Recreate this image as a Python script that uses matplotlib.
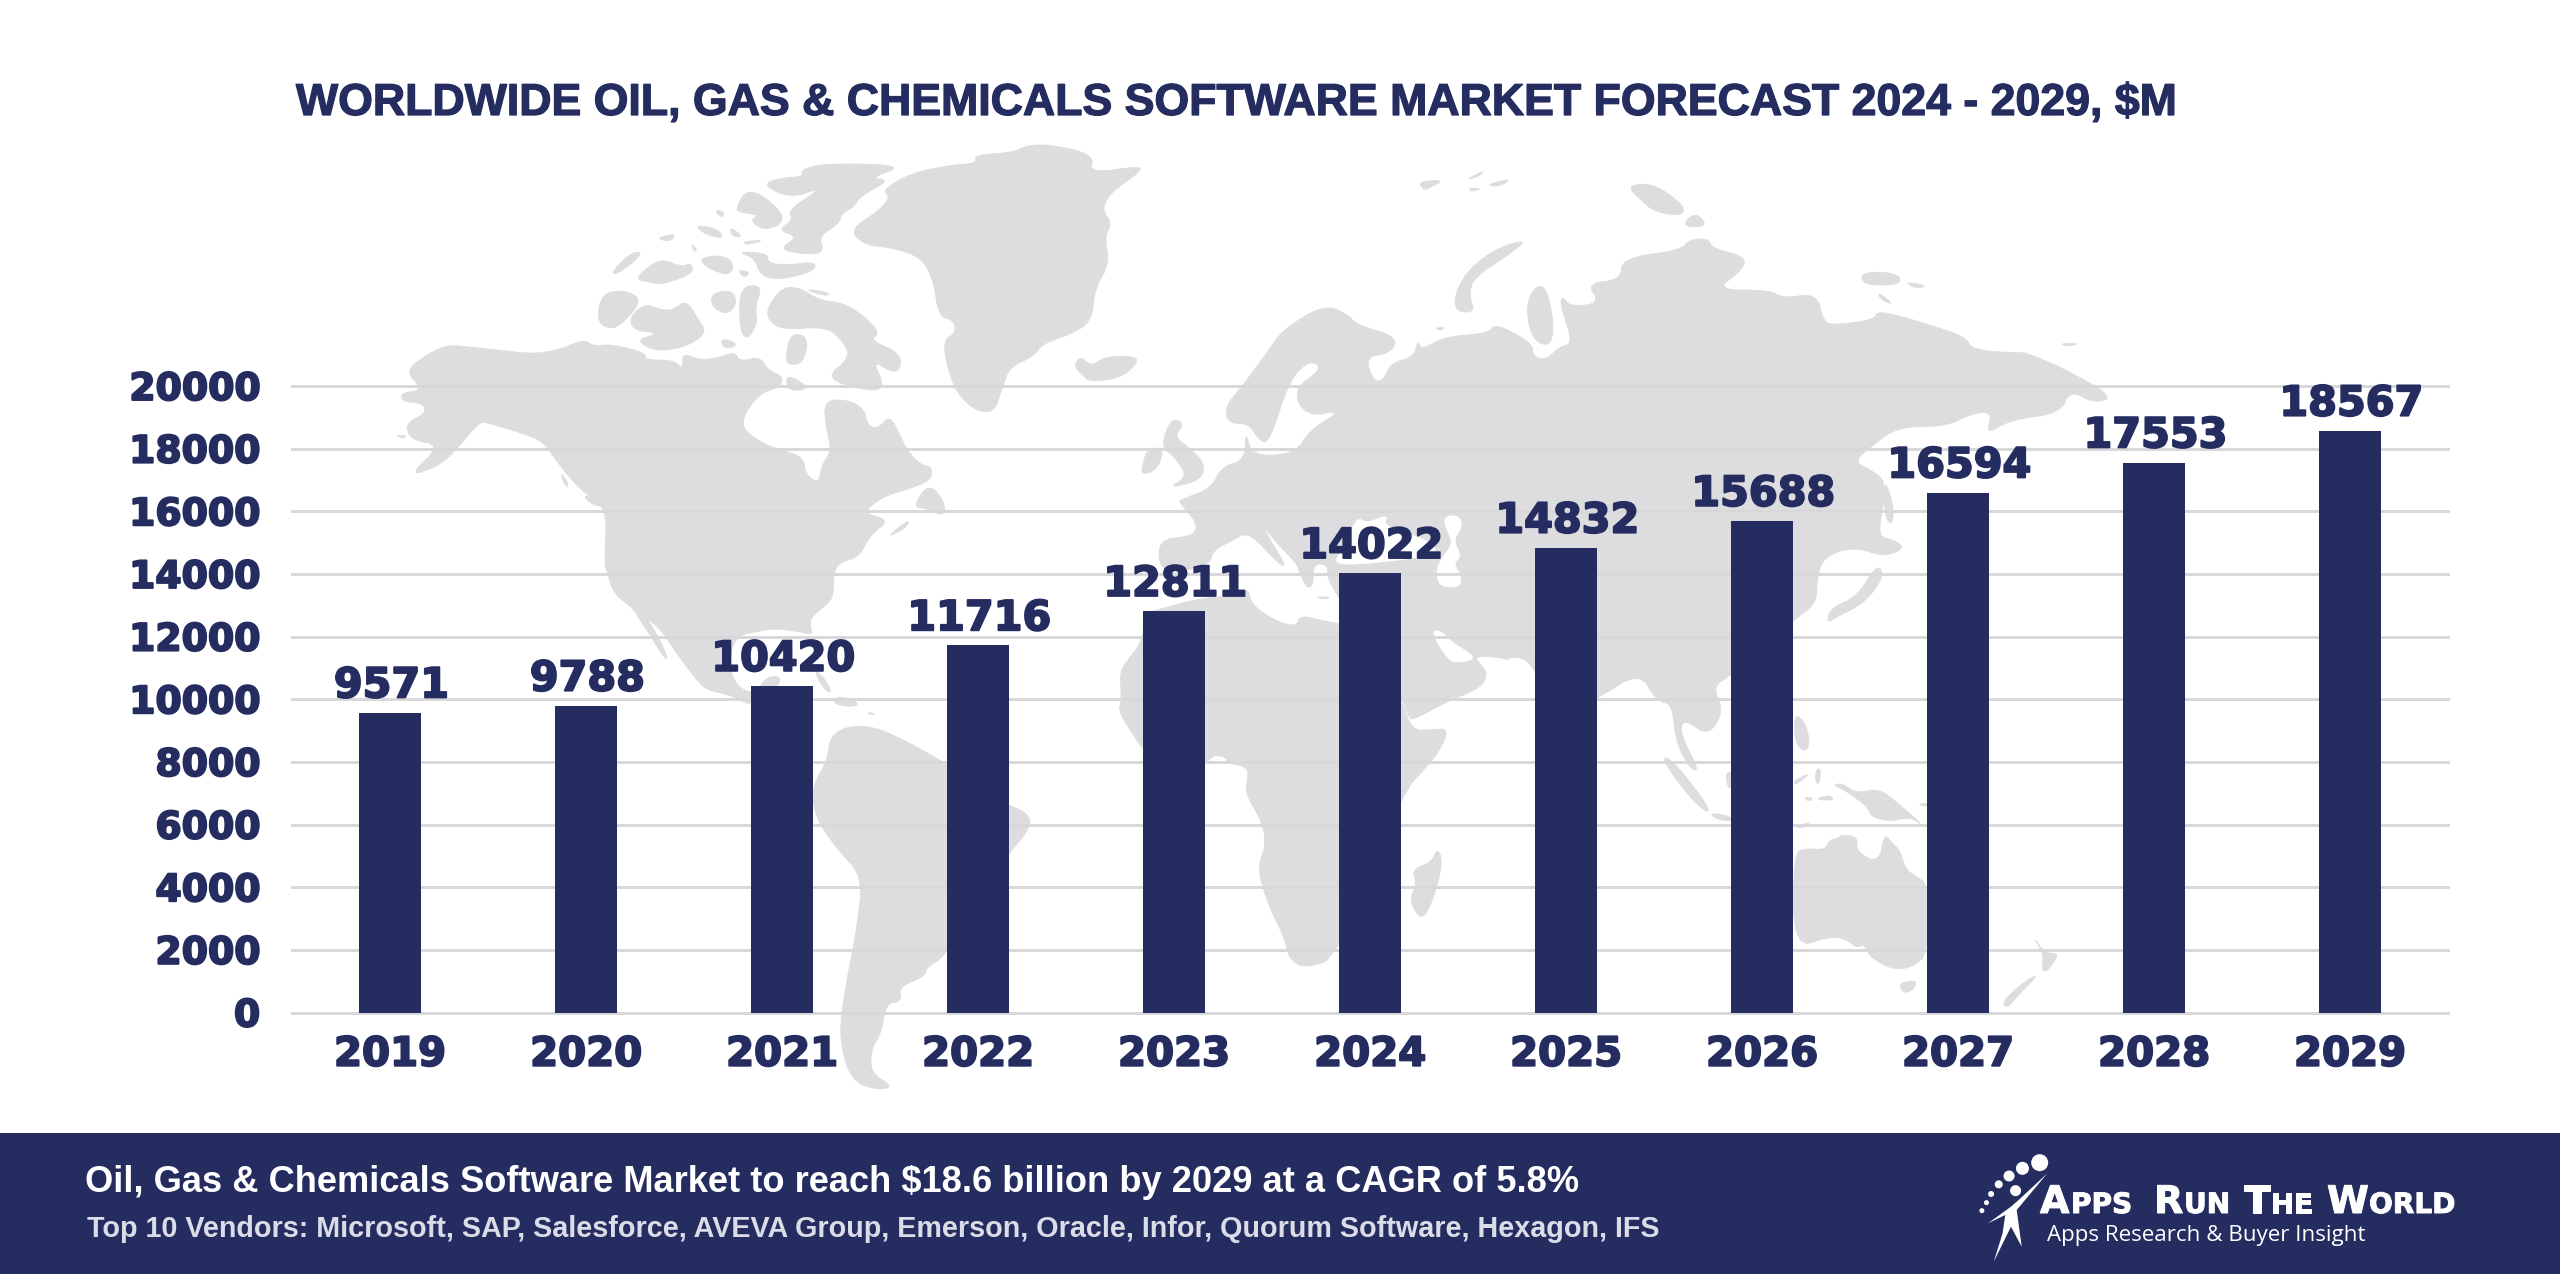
import matplotlib
matplotlib.use("Agg")
import matplotlib.pyplot as plt
import matplotlib.patheffects as pe
from matplotlib import font_manager as fm
from matplotlib.patches import Rectangle, Circle

# ---- chart data ----
years = ["2019", "2020", "2021", "2022", "2023", "2024", "2025", "2026", "2027", "2028", "2029"]
revenue = [9571, 9788, 10420, 11716, 12811, 14022, 14832, 15688, 16594, 17553, 18567]
yticks = [0, 2000, 4000, 6000, 8000, 10000, 12000, 14000, 16000, 18000, 20000]
title = "WORLDWIDE OIL, GAS & CHEMICALS SOFTWARE MARKET FORECAST 2024 - 2029, $M"
line1 = "Oil, Gas & Chemicals Software Market to reach $18.6 billion by 2029 at a CAGR of 5.8%"
line2 = "Top 10 Vendors: Microsoft, SAP, Salesforce, AVEVA Group, Emerson, Oracle, Infor, Quorum Software, Hexagon, IFS"

NAVY = "#252C60"
LAND = "#DDDCDF"
GRID = "#D8D8DA"
W, H = 2560, 1274
installed = {f.name for f in fm.fontManager.ttflist}
NARROW = "Liberation Sans Narrow" if "Liberation Sans Narrow" in installed else "Liberation Sans"

# ---- decorative background: outlines traced in crop coordinates ----
def crop(x0, y0, sx, sy):
    return lambda pts: [(x0 + a / sx, y0 + b / sy) for a, b in pts]
z4 = crop(380, 130, 1.96, 3)
z5 = crop(1100, 160, 1.479, 3)
z6 = crop(700, 620, 1.96, 3)
z7 = crop(1500, 620, 2.613, 3)
z8 = crop(600, 560, 3, 3)
z9 = crop(1100, 500, 3, 3)

def soften(pts, rounds=2):
    """Corner-cut a closed outline so coasts read as curves."""
    for _ in range(rounds):
        out = []
        for i, (x0, y0) in enumerate(pts):
            x1, y1 = pts[(i + 1) % len(pts)]
            out.append((0.75 * x0 + 0.25 * x1, 0.75 * y0 + 0.25 * y1))
            out.append((0.25 * x0 + 0.75 * x1, 0.25 * y0 + 0.75 * y1))
        pts = out
    return pts

north_america = z4([(50,725),(85,680),(130,645),(170,650),(230,660),(300,672),(350,660),(400,628),(420,650),(450,642),
    (520,668),(520,690),(575,690),(595,720),(592,668),(625,690),(660,685),(695,665),(705,695),(745,680),(760,720),
    (790,740),(785,770),(745,790),(715,850),(710,895),(740,930),(765,950),(800,965),(830,985),(835,1035),(860,1060),
    (865,1010),(885,960),(875,900),(870,810),(920,810),(950,840),(955,885),(975,898),(1000,855),(1020,920),(1035,965),
    (1060,1005),(1082,1010),(1080,1050),(1040,1075),(985,1100),(945,1150),(1000,1170),(960,1215),(940,1280),(905,1295),
    (890,1320)]) + z8([(700,100),(690,125),(640,165),(628,190),(640,225),(600,215),(520,205),(470,215),(420,225),(395,260),
    (390,330),(410,375),(440,395),(470,395),(500,350),(545,350),(530,385),(460,390),(455,430),(440,430),(390,405),
    (320,390),(290,360),(230,280),(180,205),(140,175),(150,190),(180,240),(205,298),(190,290),(150,225),(120,180),
    (100,145),(40,100),(20,30)]) + z4([(440,1300),(445,1140),(410,1100),(375,1050),(340,980),(320,935),(280,910),(215,880),
    (195,875),(160,940),(120,1005),(55,1040),(120,945),(60,930),(50,880),(90,850),(85,820),(45,815),(40,790),(85,780)])

arctic_canada = [z4(p) for p in [
    [(435,490),(480,480),(515,510),(470,590),(445,595),(425,570)],
    [(490,560),(520,520),(550,540),(575,540),(600,510),(625,570),(640,610),(600,650),(540,665),(500,630),(550,610),(495,600)],
    [(650,490),(690,480),(700,520),(680,555),(650,530)],
    [(705,470),(750,465),(735,530),(740,580),(720,630),(705,600)],
    [(760,530),(790,470),(825,475),(860,510),(910,520),(950,560),(980,610),(960,630),(1020,670),(1020,720),(1000,725),
     (965,690),(990,770),(960,785),(870,745),(925,680),(900,620),(870,590),(790,600),(760,570)],
    [(805,610),(840,620),(830,700),(800,705),(795,680)],
    [(670,625),(700,640),(690,655),(670,650)],
    [(825,120),(870,100),(1030,105),(960,145),(1000,150),(940,200),(930,230),(905,250),(900,280),(860,320),(870,360),
     (850,375),(780,360),(820,320),(780,300),(810,270),(800,240),(870,170),(805,205),(750,165),(780,145),(830,140)],
    [(700,365),(760,370),(760,400),(800,405),(855,395),(850,425),(780,450),(745,435),(735,385)],
    [(700,230),(715,185),(745,190),(790,250),(785,285),(750,300),(725,270),(745,255),(700,245)],
    [(655,240),(675,245),(670,265)],
    [(615,285),(660,295),(675,325),(640,315)],
    [(685,290),(712,320),(690,320)],
    [(710,335),(755,330),(720,345)],
    [(610,340),(622,360),(615,365)],
    [(455,425),(490,370),(515,365),(495,400),(460,435)],
    [(510,430),(550,385),(590,410),(610,400),(615,430),(550,465),(525,455),(505,450)],
    [(625,385),(670,375),(695,400),(685,435),(660,425),(640,410)],
    [(700,420),(725,425),(715,445)],
    [(540,325),(580,310),(570,335)],
    [(830,475),(885,490),(870,498)],
    [(795,730),(845,775),(800,785)],
    [(1075,1060),(1105,1110),(1108,1160),(1070,1135),(1045,1130)],
    [(990,1225),(1040,1165),(1030,1195)],
    [(30,918),(50,915),(50,925)],
    [(352,1025),(370,1060),(365,1075)],
    [(395,1090),(445,1130),(415,1125)],
]]

greenland = z4([(920,300),(980,240),(1000,200),(985,180),(1040,130),(1120,105),(1170,100),(1165,75),(1240,68),(1270,45),
    (1320,45),(1400,75),(1390,130),(1490,108),(1490,125),(1430,190),(1415,240),(1435,280),(1420,320),(1430,400),(1400,480),
    (1395,575),(1350,615),(1300,640),(1280,680),(1235,710),(1220,770),(1205,845),(1170,845),(1130,790),(1110,700),(1105,630),
    (1128,610),(1125,570),(1095,560),(1085,450),(1060,380),(1000,352),(950,345)])
iceland = z4([(1360,710),(1372,678),(1395,710),(1420,680),(1480,678),(1485,700),(1450,745),(1390,755),(1378,735)])

caribbean = [z8(p) for p in [
    [(645,330),(670,350),(695,395),(680,395),(655,360)],
    [(710,410),(750,415),(780,435),(740,440),(700,430)],
    [(800,457),(825,460),(815,465)],
]]

south_america = z6([(255,350),(290,318),(340,320),(400,360),(470,420),(490,440),(530,520),(610,555),(650,590),(640,640),
    (610,690),(550,830),(480,1010),(445,1040),(440,1070),(390,1100),(395,1145),(365,1150),(355,1240),(335,1290),(335,1360),
    (380,1400),(345,1410),(295,1380),(272,1250),(285,1100),(305,950),(320,770),(270,690),(225,590),(220,500),(250,420)])

africa = z9([(130,420),(75,490),(60,520),(65,600),(55,635),(110,720),(130,750),(318,790),(340,765),(375,770),(385,790),
    (440,800),(445,830),(435,880),(480,950)]) + z6([(1075,530),(1105,620),(1108,680),(1098,720),(1095,760),(1115,860),
    (1145,950),(1155,1020),(1190,1045),(1250,1010),(1376,520)]) + z9([(980,800),(1020,750),(1047,685),(990,690),(935,690),
    (905,600),(800,420),(720,370),(680,365),(600,345),(590,380),(530,365),(455,315),(445,265),(415,285),(300,295),(190,325),(130,340)])
madagascar = z6([(1445,685),(1455,720),(1445,800),(1425,880),(1410,895),(1390,840),(1405,790),(1395,750),(1435,725)])

eurasia = z9([(175,120),(260,110),(290,95),(285,60),(240,10)]) + z5([(118,1020),(165,985),(180,920),(215,900),(215,810),
    (225,890),(290,880),(310,810),(360,750),(305,770),(285,690),(330,625),(310,600),(280,660),(250,850),(235,840),(220,790),
    (190,790),(185,740),(210,680),(250,570),(270,510),(330,435),(365,460),(380,495),(440,530),(430,580),(392,590),(405,665),
    (420,660),(430,610),(465,590),(470,540),(475,570),(510,530),(575,520),(585,490),(640,550),(640,590),(660,600),(680,560),
    (700,550),(680,430),(685,410),(695,440),(740,430),(720,370),(770,360),(772,295),(860,270),(870,240),(900,235),(905,265),
    (955,290),(950,330),(910,390),(990,390),(1010,415),(1060,400),(1070,485),(1085,495),(1145,480),(1150,450),(1220,490),
    (1280,530),(1290,570),(1360,580),(1365,575),(1420,620),(1500,710),(1470,730),(1435,690),(1420,760),(1345,780),(1310,825),
    (1320,755),(1290,760),(1250,800),(1180,800),(1140,860),(1115,905),(1140,930),(1160,960),(1160,1020),(1150,1130),(1175,1140),
    (1190,1165),(1160,1190),(1115,1160),(1070,1190),(1060,1260),(1060,1330)]) + z7([(767,0),(605,165),(555,200),(585,270),(545,350),
    (480,295),(470,340),(520,450),(500,450),(460,370),(450,250),(410,245),(365,155),(255,235),(170,280),(90,150),(60,110),(0,115)]) + z9([
    (1240,480),(1180,470),(1130,470),(1130,480),(1165,520),(1140,565),(1040,605),(940,660),(925,650),(905,590),(800,400),(720,300),
    (680,230),(685,195),(640,190),(640,255),(620,265),(600,220),(590,190),(545,145),(490,80),(485,70),(510,120),(560,200),(535,190),
    (470,120),(435,100),(400,120),(340,150),(330,190),(270,210),(180,215)])

eurasia_islands = [z5(p) for p in [
    [(105,775),(125,790),(110,830),(130,860),(155,910),(150,960),(100,985),(130,950),(110,890),(90,860)],
    [(70,870),(95,860),(85,930),(60,945),(65,900)],
    [(470,65),(510,60),(485,85),(480,90)],
    [(540,60),(570,30),(560,50)],
    [(570,75),(610,55),(590,80)],
    [(545,85),(565,85),(550,95)],
    [(520,450),(535,350),(580,270),(635,235),(600,290),(555,350),(545,400),(555,460)],
    [(630,450),(640,385),(660,375),(672,500),(665,560),(640,540)],
    [(495,505),(510,500),(505,512)],
    [(780,80),(805,70),(830,85),(865,140),(860,168),(820,155),(800,120)],
    [(860,200),(880,155),(900,200)],
    [(1125,340),(1160,335),(1185,350),(1180,375),(1130,375)],
    [(1190,365),(1225,378),(1205,385)],
    [(1150,395),(1175,435),(1155,420)],
    [(1420,550),(1450,550),(1430,560)],
    [(1075,1390),(1080,1345),(1120,1310),(1150,1210),(1160,1250),(1130,1330),(1090,1370)],
    [(1160,950),(1175,1050),(1170,1100),(1160,1060)],
]] + [z9([(645,290),(695,292),(670,298)])]

oceania = [z7(p) for p in [
    [(420,410),(450,420),(520,520),(550,575),(530,570),(480,510)],
    [(550,578),(605,590),(605,605),(560,595)],
    [(590,460),(605,455),(605,505),(595,500)],
    [(770,280),(800,310),(810,380),(790,395),(770,360)],
    [(770,480),(810,460),(790,480),(770,495)],
    [(795,530),(820,535),(805,545)],
    [(830,535),(860,525),(875,540),(835,540)],
    [(825,450),(838,445),(835,490),(825,490)],
    [(870,495),(895,490),(930,520),(990,505),(1040,550),(1110,620),(1070,590),(1020,605),(970,590),(960,560),(925,530),(900,510)],
    [(1090,553),(1118,550),(1118,560)],
    [(770,620),(815,605),(790,625)],
    [(767,700),(800,685),(850,690),(860,660),(885,655),(890,645),(935,650),(930,695),(990,730),(1005,640),(1025,670),(1045,690),
     (1060,750),(1090,770),(1118,795),(1118,1000),(1080,1040),(1030,1050),(970,1015),(950,970),(935,985),(900,955),(860,950),(767,985)],
    [(1040,1090),(1090,1080),(1080,1110),(1055,1120)],
    [(1395,955),(1415,985),(1430,1000),(1462,1000),(1430,1055),(1415,1050),(1420,1010),(1410,980)],
    [(1410,1060),(1350,1130),(1325,1165),(1312,1145),(1370,1085)],
]]

seas = [z9(p) for p in [
    [(1030,50),(1075,45),(1088,80),(1060,120),(1085,170),(1060,190),(1085,230),(1080,262),(1020,260),(1008,220),(1020,180),(1060,130),(1040,90)],
    [(700,185),(740,130),(770,50),(800,70),(865,42),(850,80),(1000,125),(1010,165),(860,185),(740,195)],
    [(995,395),(1020,390),(1060,430),(1115,462),(1120,480),(1060,490),(1030,460)],
]]

land_shapes = ([north_america, greenland, iceland, south_america, africa, madagascar, eurasia]
               + arctic_canada + caribbean + eurasia_islands + oceania)

# ---- figure ----
fig = plt.figure(figsize=(W / 100, H / 100), dpi=100, facecolor="white")

bg = fig.add_axes([0, 0, 1, 1], zorder=0)
bg.set_xlim(0, W); bg.set_ylim(H, 0); bg.axis("off")
for shape in land_shapes:
    xs, ys = zip(*soften(shape))
    bg.fill(xs, ys, facecolor=LAND, edgecolor=LAND, linewidth=0.6, joinstyle="round", zorder=1)
for shape in seas:
    xs, ys = zip(*soften(shape))
    bg.fill(xs, ys, facecolor="white", edgecolor="white", linewidth=0.4, zorder=2)

# main chart
left, right, top, bottom = 292, 2448, 386, 1012.5
ax = fig.add_axes([left / W, 1 - bottom / H, (right - left) / W, (bottom - top) / H], zorder=1)
ax.patch.set_alpha(0)
positions = list(range(len(years)))
ax.bar(positions, revenue, width=0.316, color=NAVY, zorder=3)
ax.set_xlim(-0.5, len(years) - 0.5)
ax.set_ylim(0, 20000)
ax.set_yticks(yticks)
ax.set_xticks(positions, years)
ax.grid(axis="y", color=GRID, linewidth=2.1, zorder=1)
ax.set_axisbelow(True)
for s in ax.spines.values():
    s.set_visible(False)
for g in ax.get_ygridlines():
    g.set_clip_on(False)
ax.tick_params(axis="both", length=0, colors=NAVY)
ax.tick_params(axis="y", pad=23)
ax.tick_params(axis="x", pad=16)
heavy = [pe.withStroke(linewidth=1.4, foreground=NAVY)]
for t in ax.get_yticklabels():
    t.set_fontfamily("DejaVu Sans"); t.set_fontweight("bold"); t.set_fontsize(27.2); t.set_path_effects(heavy)
for t in ax.get_xticklabels():
    t.set_fontfamily("DejaVu Sans"); t.set_fontweight("bold"); t.set_fontsize(29); t.set_path_effects(heavy)
for x, v in zip(positions, revenue):
    ax.annotate(str(v), (x, v), xytext=(1, 11), textcoords="offset points", ha="center", va="baseline",
                color=NAVY, fontsize=29.8, fontweight="bold", family="DejaVu Sans", zorder=5, path_effects=heavy)

# overlay: title, banner, logo
ov = fig.add_axes([0, 0, 1, 1], zorder=2)
ov.set_xlim(0, W); ov.set_ylim(H, 0); ov.axis("off"); ov.patch.set_alpha(0)
ov.add_patch(Rectangle((0, 1133), W, H - 1133, facecolor=NAVY, edgecolor="none"))

renderer = fig.canvas.get_renderer()
def fit(t, width):
    t.set_fontsize(t.get_fontsize() * width / t.get_window_extent(renderer).width)
    return t

fit(ov.text(296, 115, title, color=NAVY, family=NARROW, fontweight="bold", fontsize=30, va="baseline", ha="left",
            path_effects=[pe.withStroke(linewidth=0.9, foreground=NAVY)]), 1878)
fit(ov.text(85, 1192, line1, color="white", family=NARROW, fontweight="bold", fontsize=22, va="baseline", ha="left"), 1490)
fit(ov.text(87, 1237, line2, color="#DADCE8", family=NARROW, fontweight="bold", fontsize=18, va="baseline", ha="left"), 1573)

# logo wordmark: text, x start, letter size in pixels
big_px, small_px = 38, 28
word = [("A", 2040, big_px), ("PPS", 2071, small_px), ("R", 2154, big_px), ("UN", 2184, small_px),
        ("T", 2244, big_px), ("HE", 2270, small_px), ("W", 2327, big_px), ("ORLD", 2369, small_px)]
for s, x0, px in word:
    ov.text(x0, 1213, s, color="white", family="DejaVu Sans", fontweight="bold", fontsize=px * 0.72, va="baseline", ha="left",
            path_effects=[pe.withStroke(linewidth=0.7, foreground="white")])
fit(ov.text(2047, 1235, "Apps Research & Buyer Insight", color="white", family="Open Sans", fontsize=20, va="center", ha="left"), 318)

z3 = crop(1900, 1120, 2.613, 3)
for (zx, zy, r) in [(365, 128, 8.5), (320, 145, 6.5), (285, 168, 5.5), (258, 193, 4), (238, 222, 3), (226, 248, 2.5), (214, 272, 2.5), (302, 212, 5.5)]:
    (cx, cy), = z3([(zx, zy)])
    ov.add_patch(Circle((cx, cy), r, facecolor="white", edgecolor="none"))
rx, ry = zip(*z3([(385, 160), (310, 240), (290, 260), (230, 310), (275, 285), (268, 340), (245, 425), (290, 320), (318, 380), (305, 270)]))
ov.fill(rx, ry, facecolor="white", edgecolor="none")

fig.savefig("out.png", dpi=100, facecolor="white")
